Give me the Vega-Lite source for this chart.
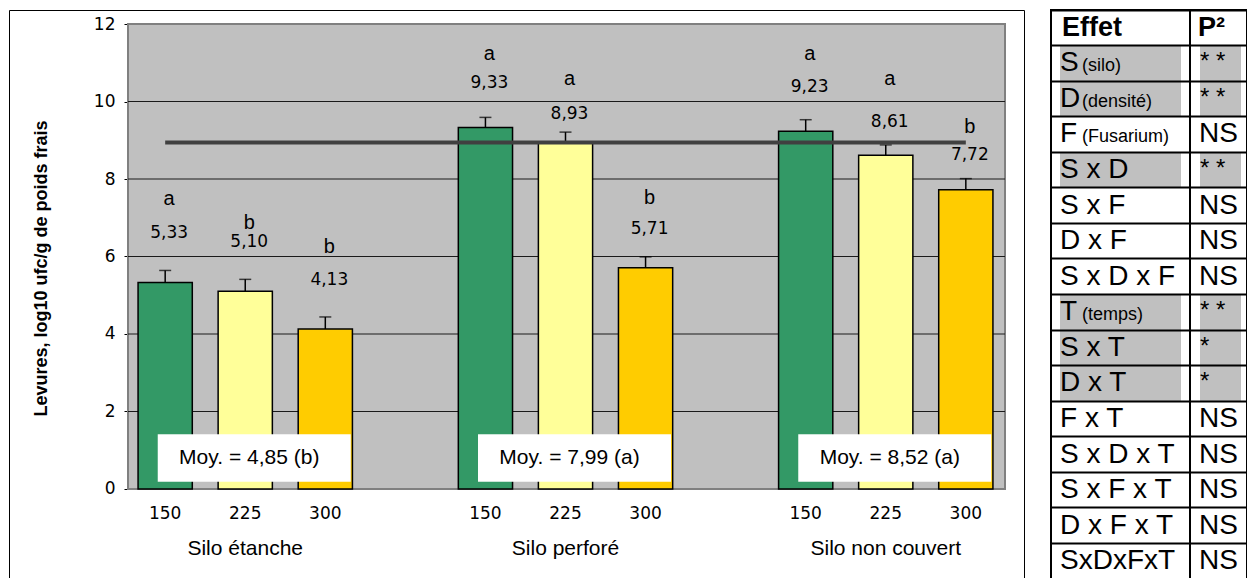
{
  "$schema": "https://vega.github.io/schema/vega-lite/v6.json",
  "background": "white",
  "padding": {"left": 8, "top": 9, "right": 0, "bottom": 0},
  "bounds": "flush",
  "spacing": 27,
  "config": {
    "axis": {"labelColor": "black", "titleColor": "black"},
    "text": {"font": "Liberation Sans", "color": "black"}
  },
  "datasets": {
    "barres": [
      {"slot": "Silo étanche|150", "silo": "Silo étanche", "dose": "150", "valeur": 5.33, "err": 0.31, "lettre": "a", "etiquette": "5,33", "yLettre": 7.48, "yValeur": 6.61, "seuil": 8.94},
      {"slot": "Silo étanche|225", "silo": "Silo étanche", "dose": "225", "valeur": 5.10, "err": 0.31, "lettre": "b", "etiquette": "5,10", "yLettre": 6.87, "yValeur": 6.38, "seuil": 8.94},
      {"slot": "Silo étanche|300", "silo": "Silo étanche", "dose": "300", "valeur": 4.13, "err": 0.31, "lettre": "b", "etiquette": "4,13", "yLettre": 6.25, "yValeur": 5.39, "seuil": 8.94},
      {"slot": "Silo perforé|150", "silo": "Silo perforé", "dose": "150", "valeur": 9.33, "err": 0.26, "lettre": "a", "etiquette": "9,33", "yLettre": 11.22, "yValeur": 10.47, "seuil": 8.94},
      {"slot": "Silo perforé|225", "silo": "Silo perforé", "dose": "225", "valeur": 8.93, "err": 0.28, "lettre": "a", "etiquette": "8,93", "yLettre": 10.57, "yValeur": 9.67, "seuil": 8.94},
      {"slot": "Silo perforé|300", "silo": "Silo perforé", "dose": "300", "valeur": 5.71, "err": 0.28, "lettre": "b", "etiquette": "5,71", "yLettre": 7.50, "yValeur": 6.70, "seuil": 8.94},
      {"slot": "Silo non couvert|150", "silo": "Silo non couvert", "dose": "150", "valeur": 9.23, "err": 0.30, "lettre": "a", "etiquette": "9,23", "yLettre": 11.22, "yValeur": 10.37, "seuil": 8.94},
      {"slot": "Silo non couvert|225", "silo": "Silo non couvert", "dose": "225", "valeur": 8.61, "err": 0.27, "lettre": "a", "etiquette": "8,61", "yLettre": 10.59, "yValeur": 9.47, "seuil": 8.94},
      {"slot": "Silo non couvert|300", "silo": "Silo non couvert", "dose": "300", "valeur": 7.72, "err": 0.29, "lettre": "b", "etiquette": "7,72", "yLettre": 9.35, "yValeur": 8.61, "seuil": 8.94}
    ],
    "grille": [{"v": 2}, {"v": 4}, {"v": 6}, {"v": 8}, {"v": 10}],
    "groupes": [
      {"slot": "Silo étanche|225", "silo": "Silo étanche", "moy": "Moy. = 4,85 (b)"},
      {"slot": "Silo perforé|225", "silo": "Silo perforé", "moy": "Moy. = 7,99 (a)"},
      {"slot": "Silo non couvert|225", "silo": "Silo non couvert", "moy": "Moy. = 8,52 (a)"}
    ],
    "table": [
      {"id": "Effet", "effet": "Effet", "note": "", "p": "P²", "kind": "entete", "sig": false},
      {"id": "S (silo)", "effet": "S", "note": "(silo)", "p": "* *", "kind": "effet", "sig": true},
      {"id": "D (densité)", "effet": "D", "note": "(densité)", "p": "* *", "kind": "effet", "sig": true},
      {"id": "F (Fusarium)", "effet": "F", "note": "(Fusarium)", "p": "NS", "kind": "effet", "sig": false},
      {"id": "S x D", "effet": "S x D", "note": "", "p": "* *", "kind": "effet", "sig": true},
      {"id": "S x F", "effet": "S x F", "note": "", "p": "NS", "kind": "effet", "sig": false},
      {"id": "D x F", "effet": "D x F", "note": "", "p": "NS", "kind": "effet", "sig": false},
      {"id": "S x D x F", "effet": "S x D x F", "note": "", "p": "NS", "kind": "effet", "sig": false},
      {"id": "T (temps)", "effet": "T", "note": "(temps)", "p": "* *", "kind": "effet", "sig": true},
      {"id": "S x T", "effet": "S x T", "note": "", "p": "*", "kind": "effet", "sig": true},
      {"id": "D x T", "effet": "D x T", "note": "", "p": "*", "kind": "effet", "sig": true},
      {"id": "F x T", "effet": "F x T", "note": "", "p": "NS", "kind": "effet", "sig": false},
      {"id": "S x D x T", "effet": "S x D x T", "note": "", "p": "NS", "kind": "effet", "sig": false},
      {"id": "S x F x T", "effet": "S x F x T", "note": "", "p": "NS", "kind": "effet", "sig": false},
      {"id": "D x F x T", "effet": "D x F x T", "note": "", "p": "NS", "kind": "effet", "sig": false},
      {"id": "SxDxFxT", "effet": "SxDxFxT", "note": "", "p": "NS", "kind": "effet", "sig": false}
    ]
  },
  "hconcat": [
    {
      "width": 1015,
      "height": 569,
      "view": {"stroke": "black", "strokeWidth": 1, "fill": "white"},
      "resolve": {"axis": {"x": "independent", "y": "independent"}},
      "layer": [
        {
          "data": {"name": "barres"},
          "mark": {"type": "bar", "width": 877, "xOffset": 1, "fill": "#c0c0c0", "stroke": "#808080", "strokeWidth": 2},
          "encoding": {
            "x": {"datum": "Silo perforé|225", "type": "nominal", "axis": null},
            "y": {"datum": 0, "type": "quantitative", "axis": null},
            "y2": {"datum": 12}
          }
        },
        {
          "data": {"name": "grille"},
          "mark": {"type": "tick", "orient": "horizontal", "size": 877, "thickness": 1, "xOffset": 1, "color": "#1a1a1a", "opacity": 1},
          "encoding": {
            "x": {"datum": "Silo perforé|225", "type": "nominal", "axis": null},
            "y": {"field": "v", "type": "quantitative", "axis": null}
          }
        },
        {
          "data": {"name": "barres"},
          "mark": {"type": "errorbar", "color": "black", "thickness": 1.5, "ticks": {"size": 12, "thickness": 1.5, "color": "black"}},
          "encoding": {
            "x": {"field": "slot", "type": "nominal", "axis": null},
            "y": {"field": "valeur", "type": "quantitative", "axis": null},
            "yError": {"field": "err"}
          }
        },
        {
          "data": {"name": "barres"},
          "mark": {"type": "bar", "stroke": "black", "strokeWidth": 1.5},
          "encoding": {
            "x": {
              "field": "slot", "type": "nominal",
              "scale": {
                "domain": ["Silo étanche|150", "Silo étanche|225", "Silo étanche|300", "gap1", "Silo perforé|150", "Silo perforé|225", "Silo perforé|300", "gap2", "Silo non couvert|150", "Silo non couvert|225", "Silo non couvert|300"],
                "paddingInner": 0.3227, "paddingOuter": 1.027, "align": 0.806
              },
              "axis": {
                "title": null, "orient": "bottom", "offset": -90, "domain": false, "ticks": false, "tickSize": 0,
                "labelExpr": "indexof(datum.value, '|') < 0 ? '' : split(datum.value, '|')[1]",
                "labelFont": "DejaVu Sans", "labelFontSize": 17, "labelBaseline": "middle", "labelPadding": 24, "labelAngle": 0
              }
            },
            "y": {
              "field": "valeur", "type": "quantitative",
              "scale": {"domain": [-2.3226, 12.3613], "nice": false, "zero": false},
              "axis": {
                "title": "Levures, log10 ufc/g de poids frais", "orient": "left", "offset": -120,
                "values": [0, 2, 4, 6, 8, 10, 12], "grid": false, "domain": false,
                "tickSize": 5, "tickColor": "black", "tickWidth": 1,
                "labelFont": "DejaVu Sans", "labelFontSize": 17, "labelPadding": 9,
                "titleFont": "Liberation Sans", "titleFontSize": 18, "titleFontWeight": "bold",
                "titleX": -88, "titleY": 258, "titleAngle": 270, "titleBaseline": "middle", "titleAlign": "center"
              }
            },
            "y2": {"datum": 0},
            "color": {"field": "dose", "type": "nominal", "scale": {"domain": ["150", "225", "300"], "range": ["#339966", "#ffff99", "#ffcc00"]}, "legend": null}
          }
        },
        {
          "data": {"name": "barres"},
          "mark": {"type": "line", "color": "#404040", "strokeWidth": 4},
          "encoding": {
            "x": {"field": "slot", "type": "nominal", "axis": null},
            "y": {"field": "seuil", "type": "quantitative", "axis": null}
          }
        },
        {
          "data": {"name": "barres"},
          "mark": {"type": "text", "font": "Liberation Sans", "fontSize": 20, "baseline": "middle", "dx": 4},
          "encoding": {
            "x": {"field": "slot", "type": "nominal", "axis": null},
            "y": {"field": "yLettre", "type": "quantitative", "axis": null},
            "text": {"field": "lettre"}
          }
        },
        {
          "data": {"name": "barres"},
          "mark": {"type": "text", "font": "DejaVu Sans", "fontSize": 17, "baseline": "middle", "dx": 4},
          "encoding": {
            "x": {"field": "slot", "type": "nominal", "axis": null},
            "y": {"field": "yValeur", "type": "quantitative", "axis": null},
            "text": {"field": "etiquette"}
          }
        },
        {
          "data": {"name": "groupes"},
          "mark": {"type": "bar", "width": 193, "xOffset": 9, "fill": "white", "stroke": null},
          "encoding": {
            "x": {"field": "slot", "type": "nominal", "axis": null},
            "y": {"datum": 0.19, "type": "quantitative", "axis": null},
            "y2": {"datum": 1.41}
          }
        },
        {
          "data": {"name": "groupes"},
          "mark": {"type": "text", "font": "Liberation Sans", "fontSize": 21, "baseline": "middle", "dx": 4},
          "encoding": {
            "x": {"field": "slot", "type": "nominal", "axis": null},
            "y": {"datum": 0.8, "type": "quantitative", "axis": null},
            "text": {"field": "moy"}
          }
        },
        {
          "data": {"name": "groupes"},
          "mark": {"type": "text", "font": "Liberation Sans", "fontSize": 21, "baseline": "middle"},
          "encoding": {
            "x": {"field": "slot", "type": "nominal", "axis": null},
            "y": {"datum": -1.55, "type": "quantitative", "axis": null},
            "text": {"field": "silo"}
          }
        }
      ]
    },
    {
      "spacing": 0,
      "bounds": "flush",
      "hconcat": [
        {
          "width": 139,
          "height": 569,
          "view": {"stroke": "black", "strokeWidth": 2, "fill": "white"},
          "data": {"name": "table"},
          "encoding": {
            "y": {
              "field": "id", "type": "nominal",
              "scale": {"domain": ["Effet", "S (silo)", "D (densité)", "F (Fusarium)", "S x D", "S x F", "D x F", "S x D x F", "T (temps)", "S x T", "D x T", "F x T", "S x D x T", "S x F x T", "D x F x T", "SxDxFxT"], "paddingInner": 0, "paddingOuter": 0},
              "axis": {"title": null, "grid": true, "gridColor": "black", "gridWidth": 2, "gridOpacity": 1, "bandPosition": 0, "labels": false, "ticks": false, "domain": false, "zindex": 1}
            }
          },
          "layer": [
            {
              "transform": [{"filter": "datum.sig"}],
              "mark": {"type": "rect", "fill": "#c0c0c0", "xOffset": 9, "x2Offset": -9},
              "encoding": {
                "x": {"datum": 0, "type": "quantitative", "scale": {"domain": [0, 1]}, "axis": null},
                "x2": {"datum": 1}
              }
            },
            {
              "transform": [{"filter": "datum.kind == 'entete'"}],
              "mark": {"type": "text", "align": "left", "baseline": "middle", "fontSize": 27, "fontWeight": "bold", "dx": 11},
              "encoding": {"x": {"datum": 0, "type": "quantitative", "scale": {"domain": [0, 1]}, "axis": null}, "text": {"field": "effet"}}
            },
            {
              "transform": [{"filter": "datum.kind != 'entete'"}],
              "mark": {"type": "text", "align": "left", "baseline": "middle", "fontSize": 28, "dx": 9},
              "encoding": {"x": {"datum": 0, "type": "quantitative", "scale": {"domain": [0, 1]}, "axis": null}, "text": {"field": "effet"}}
            },
            {
              "transform": [{"filter": "datum.note != ''"}],
              "mark": {"type": "text", "align": "left", "baseline": "middle", "fontSize": 18, "dx": 31, "dy": 3},
              "encoding": {"x": {"datum": 0, "type": "quantitative", "scale": {"domain": [0, 1]}, "axis": null}, "text": {"field": "note"}}
            }
          ]
        },
        {
          "width": 57,
          "height": 569,
          "view": {"stroke": "black", "strokeWidth": 2, "fill": "white"},
          "data": {"name": "table"},
          "encoding": {
            "y": {
              "field": "id", "type": "nominal",
              "scale": {"domain": ["Effet", "S (silo)", "D (densité)", "F (Fusarium)", "S x D", "S x F", "D x F", "S x D x F", "T (temps)", "S x T", "D x T", "F x T", "S x D x T", "S x F x T", "D x F x T", "SxDxFxT"], "paddingInner": 0, "paddingOuter": 0},
              "axis": {"title": null, "grid": true, "gridColor": "black", "gridWidth": 2, "gridOpacity": 1, "bandPosition": 0, "labels": false, "ticks": false, "domain": false, "zindex": 1}
            }
          },
          "layer": [
            {
              "transform": [{"filter": "datum.sig"}],
              "mark": {"type": "rect", "fill": "#c0c0c0", "xOffset": 10, "x2Offset": -6},
              "encoding": {
                "x": {"datum": 0, "type": "quantitative", "scale": {"domain": [0, 1]}, "axis": null},
                "x2": {"datum": 1}
              }
            },
            {
              "transform": [{"filter": "datum.kind == 'entete'"}],
              "mark": {"type": "text", "align": "left", "baseline": "middle", "fontSize": 27, "fontWeight": "bold", "dx": 8},
              "encoding": {"x": {"datum": 0, "type": "quantitative", "scale": {"domain": [0, 1]}, "axis": null}, "text": {"field": "p"}}
            },
            {
              "transform": [{"filter": "datum.p == 'NS'"}],
              "mark": {"type": "text", "align": "left", "baseline": "middle", "fontSize": 28, "dx": 9},
              "encoding": {"x": {"datum": 0, "type": "quantitative", "scale": {"domain": [0, 1]}, "axis": null}, "text": {"field": "p"}}
            },
            {
              "transform": [{"filter": "datum.sig"}],
              "mark": {"type": "text", "align": "left", "baseline": "middle", "fontSize": 24, "dx": 10, "dy": -1},
              "encoding": {"x": {"datum": 0, "type": "quantitative", "scale": {"domain": [0, 1]}, "axis": null}, "text": {"field": "p"}}
            }
          ]
        }
      ]
    }
  ]
}
